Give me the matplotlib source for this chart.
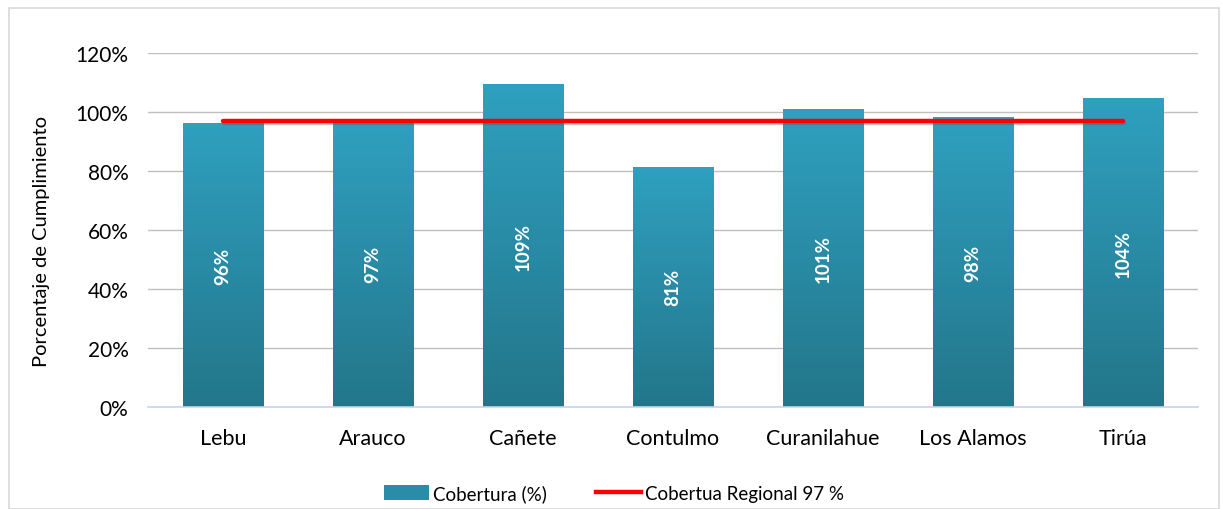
import matplotlib
matplotlib.use("Agg")
import matplotlib.pyplot as plt
import numpy as np
from matplotlib.lines import Line2D
from matplotlib.patches import Patch, Rectangle
import matplotlib.patheffects as pe

categories = ["Lebu", "Arauco", "Cañete", "Contulmo", "Curanilahue", "Los Alamos", "Tirúa"]
cobertura = [96.3, 97.2, 109.4, 81.4, 100.9, 98.2, 104.6]
labels = ["96%", "97%", "109%", "81%", "101%", "98%", "104%"]
regional = 97
yticks = [0, 20, 40, 60, 80, 100, 120]

plt.rcParams['font.family'] = ['Lato', 'DejaVu Sans']

fig = plt.figure(figsize=(12.23, 5.10), dpi=100)
fig.patches.append(Rectangle((9/1223, 0), 1210/1223, 1 - 9/510, transform=fig.transFigure,
                             fill=False, edgecolor="#D9D9D9", linewidth=1.2))
ax = fig.add_axes([148/1223, 1 - 408/510, 1050/1223, (408 - 54)/510])

x = np.arange(len(categories))
bars = ax.bar(x, cobertura, width=0.54, color="#2A8DA8", zorder=2)

top_c = np.array([0x2F, 0xA0, 0xC0]) / 255
bot_c = np.array([0x23, 0x76, 0x8A]) / 255
grad = np.linspace(0, 1, 256)[:, None]
cmap = matplotlib.colors.LinearSegmentedColormap.from_list("g", [bot_c, top_c])
for b in bars:
    bx = b.get_x()
    w, h = b.get_width(), b.get_height()
    im = ax.imshow(grad, extent=[bx, bx + w, 0, h], origin="lower", cmap=cmap,
                   aspect="auto", zorder=2.5)
    im.set_clip_path(b)

for xi, v, lab in zip(x, cobertura, labels):
    ax.text(xi, v / 2, lab, rotation=90, ha="center", va="center", color="white",
            fontsize=13.5, fontweight="bold", zorder=4)

ax.plot([x[0], x[-1]], [regional, regional], color="#FF0000", linewidth=3.2,
        solid_capstyle="round", zorder=5,
        path_effects=[pe.SimpleLineShadow(offset=(1, -1.5), shadow_color="#555555", alpha=0.35),
                      pe.Normal()])

ax.set_xlim(-0.5, len(categories) - 0.5)
ax.set_ylim(0, 120)
ax.set_yticks(yticks)
ax.set_yticklabels([f"{t}%" for t in yticks], fontsize=15)
ax.set_xticks(x)
ax.set_xticklabels(categories, fontsize=15.5)
ax.tick_params(axis="x", length=0, pad=15)
ax.tick_params(axis="y", length=0, pad=14)
ax.grid(axis="y", color="#BFBFBF", linewidth=1, zorder=0)
ax.set_axisbelow(True)
for s in ["top", "right", "left"]:
    ax.spines[s].set_visible(False)
ax.spines["bottom"].set_color("#C5D6EA")
ax.spines["bottom"].set_linewidth(1.2)
ax.spines["bottom"].set_zorder(6)

fig.text(42/1223, 1 - 242/510, "Porcentaje de Cumplimiento", rotation=90,
         ha="center", va="center", fontsize=14.5)

handles = [Patch(facecolor="#2A8DA8", edgecolor="none"),
           Line2D([0], [0], color="#FF0000", linewidth=3.2)]
fig.legend(handles, ["Cobertura (%)", "Cobertua Regional 97 %"], loc="center",
           bbox_to_anchor=(614/1223, 1 - 494/510), ncol=2, frameon=False, fontsize=13.5,
           handlelength=2.4, handleheight=0.9, handletextpad=0.2, columnspacing=2.6)

fig.savefig("out.png", dpi=100)
